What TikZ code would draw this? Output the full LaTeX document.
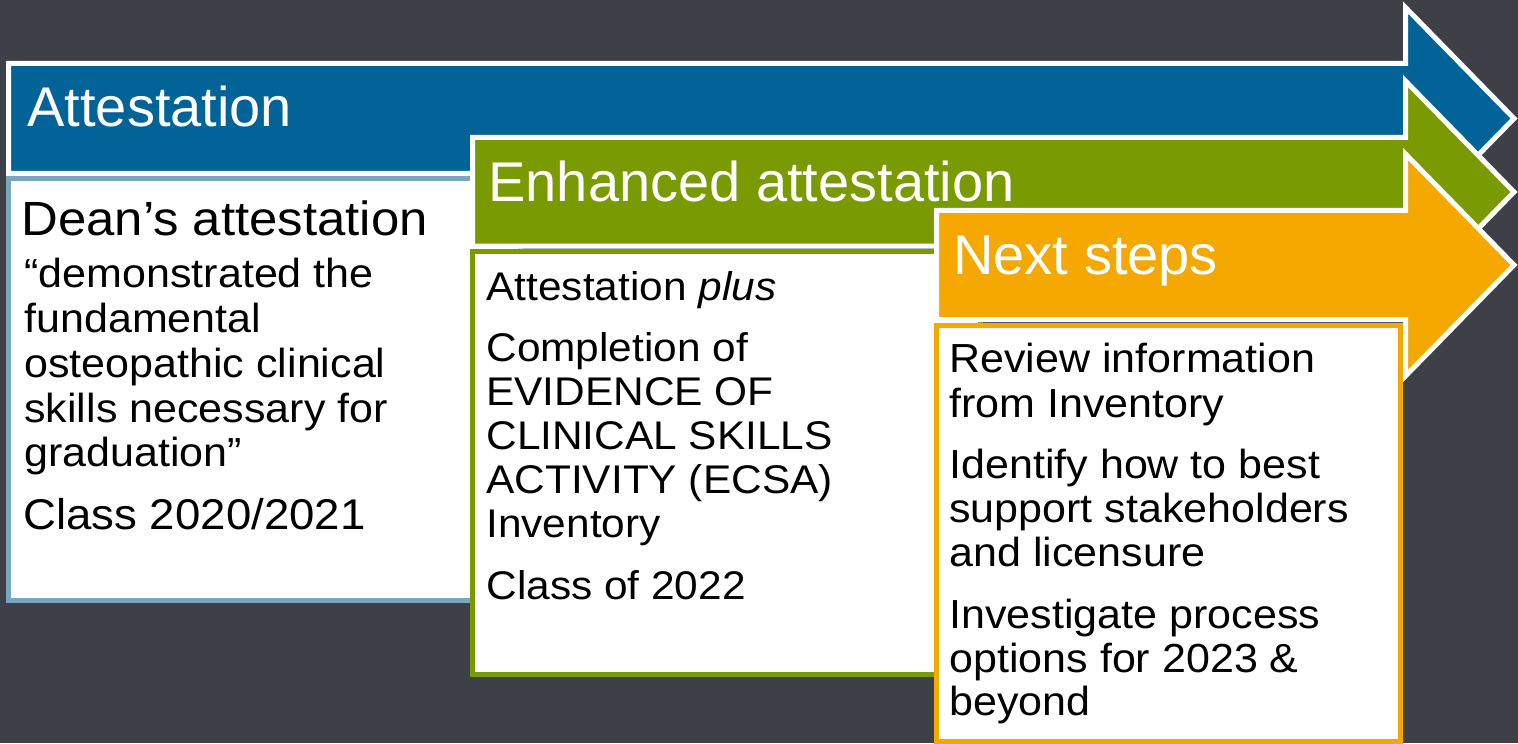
\documentclass[tikz,border=0pt]{standalone}
\usepackage{fontspec}
\setmainfont{Liberation Sans}
\newfontfamily\wideface[FakeStretch=1.06]{Liberation Sans}
\definecolor{bgc}{RGB}{62,64,72}
\definecolor{blueA}{RGB}{1,99,151}
\definecolor{greenA}{RGB}{122,154,1}
\definecolor{orangeA}{RGB}{245,168,0}
\definecolor{lblue}{RGB}{122,165,190}
\tikzset{
  arrowshape/.style={draw=white, line width=2.5pt, miter limit=10},
  boxshape/.style={fill=white, line width=2.5pt},
  headtxt/.style={anchor=base west, inner sep=0pt, text=white, font=\fontsize{28}{32}\selectfont},
  deantxt/.style={anchor=base west, inner sep=0pt, text=black, font=\wideface\fontsize{24}{27}\selectfont},
  bodytxt/.style={anchor=base west, inner sep=0pt, text=black, font=\wideface\fontsize{20.3}{22}\selectfont},
  classtxt/.style={anchor=base west, inner sep=0pt, text=black, font=\wideface\fontsize{21.5}{24}\selectfont},
  greentxt/.style={anchor=base west, inner sep=0pt, text=black, font=\wideface\fontsize{20}{22}\selectfont},
}
\begin{document}
\begin{tikzpicture}[x=0.5pt,y=-0.5pt]
\useasboundingbox (0,0) rectangle (1518,743);
\fill[bgc] (0,0) rectangle (1518,743);
\begin{scope}
\clip (0,0) rectangle (1518,743);
% blue arrow
\draw[arrowshape, fill=blueA] (8.5,63.5) -- (1405.5,63.5) -- (1405.5,7.5) -- (1514,118.5) -- (1405.5,229.5) -- (1405.5,173.5) -- (8.5,173.5) -- cycle;
\draw[boxshape, draw=lblue] (8.5,178.5) rectangle (520,600.5);
% green arrow
\draw[arrowshape, fill=greenA] (472.5,137.5) -- (1405.5,137.5) -- (1405.5,81) -- (1514,192) -- (1405.5,303) -- (1405.5,246) -- (472.5,246) -- cycle;
\draw[boxshape, draw=greenA] (472.5,251.5) rectangle (980,674);
% orange arrow
\draw[arrowshape, fill=orangeA] (936.5,210.5) -- (1405.5,210.5) -- (1405.5,154) -- (1514,265) -- (1405.5,376) -- (1405.5,319.5) -- (936.5,319.5) -- cycle;
\draw[boxshape, draw=orangeA] (936.5,325.5) rectangle (1400.5,741.5);
\end{scope}
% blue texts
\node[headtxt] (h1) at (27,127) {Attestation};
\node[deantxt] (d1) at (21,235) {Dean’s attestation};
\node[bodytxt] (b1) at (24,287) {“demonstrated the};
\node[bodytxt] (b2) at (24,332) {fundamental};
\node[bodytxt] (b3) at (24,377) {osteopathic clinical};
\node[bodytxt] (b4) at (24,422) {skills necessary for};
\node[bodytxt] (b5) at (24,466) {graduation”};
\node[classtxt] (b6) at (23,529) {Class 2020/2021};
% green texts
\node[headtxt] (h2) at (488,201) {Enhanced attestation};
\node[greentxt] (g1) at (486,300) {Attestation \textit{plus}};
\node[greentxt] (g2) at (486,361) {Completion of};
\node[greentxt] (g3) at (486,405) {EVIDENCE OF};
\node[greentxt] (g4) at (486,449) {CLINICAL SKILLS};
\node[greentxt] (g5) at (486,493) {ACTIVITY (ECSA)};
\node[greentxt] (g6) at (486,537) {Inventory};
\node[greentxt] (g7) at (486,599) {Class of 2022};
% orange texts
\node[headtxt] (h3) at (953,274) {Next steps};
\node[bodytxt] (o1) at (949,372) {Review information};
\node[bodytxt] (o2) at (949,417) {from Inventory};
\node[bodytxt] (o3) at (949,478) {Identify how to best};
\node[bodytxt] (o4) at (949,522) {support stakeholders};
\node[bodytxt] (o5) at (949,566) {and licensure};
\node[bodytxt] (o6) at (949,628) {Investigate process};
\node[bodytxt] (o7) at (949,672) {options for 2023 \&};
\node[bodytxt] (o8) at (949,715) {beyond};
\end{tikzpicture}
\end{document}
